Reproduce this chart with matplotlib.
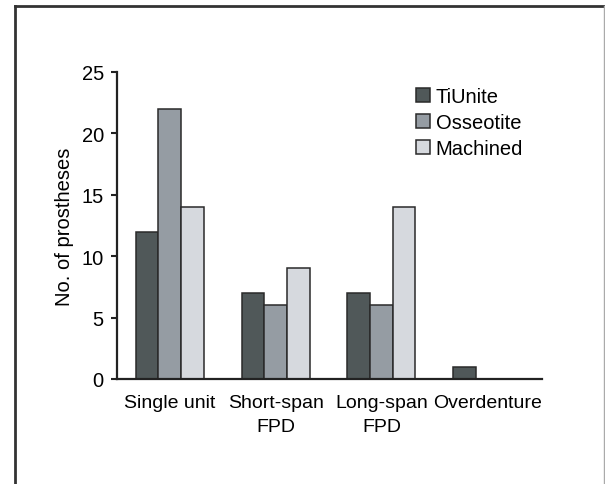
import matplotlib
matplotlib.use('Agg')
import matplotlib.pyplot as plt
from matplotlib.lines import Line2D
from matplotlib.patches import Patch
import numpy as np

# Data
categories = ['Single unit', 'Short-span\nFPD', 'Long-span\nFPD', 'Overdenture']
series_names = ['TiUnite', 'Osseotite', 'Machined']
tiunite = [12, 7, 7, 1]
osseotite = [22, 6, 6, 0]
machined = [14, 9, 14, 0]
yticks = [0, 5, 10, 15, 20, 25]

colors = ['#505859', '#959ca3', '#d6d9de']
edge = '#2a2a2a'

plt.rcParams['font.family'] = ['Liberation Sans', 'DejaVu Sans']

fig = plt.figure(figsize=(6.05, 4.85), dpi=100)
ax = fig.add_axes([117 / 605, 1 - 380 / 485, 425 / 605, 307 / 485])

x = np.arange(len(categories))
width = 0.214
values = [tiunite, osseotite, machined]
for i, vals in enumerate(values):
    xs = x + (i - 1) * width
    keep = [j for j, v in enumerate(vals) if v > 0]
    ax.bar(xs[keep], [vals[j] for j in keep], width=width, color=colors[i],
           edgecolor=edge, linewidth=1.1, zorder=2)

ax.set_xlim(-0.498, 3.516)
ax.set_ylim(0, 25)
ax.set_yticks(yticks)
ax.set_xticks(x)
ax.set_xticklabels(categories, fontsize=14, linespacing=1.5)
ax.tick_params(axis='x', length=0, pad=11)
ax.tick_params(axis='y', length=4, width=1.5, pad=5.5, labelsize=14.5, color='#222222')

for side in ['top', 'right']:
    ax.spines[side].set_visible(False)
for side in ['left', 'bottom']:
    ax.spines[side].set_linewidth(1.6)
    ax.spines[side].set_color('#222222')

ax.set_ylabel('No. of prostheses', fontsize=14.5)
ax.yaxis.set_label_coords(-0.101, 0.5)

handles = [Patch(facecolor=colors[i], edgecolor=edge, linewidth=1.1) for i in range(3)]
ax.legend(handles, series_names, loc='upper left', bbox_to_anchor=(416 / 605, 1 - 88 / 485),
          bbox_transform=fig.transFigure, frameon=False, fontsize=14.5, borderpad=0,
          borderaxespad=0, handlelength=0.68, handleheight=0.68, handletextpad=0.3,
          labelspacing=0.35)

# outer frame
fig.add_artist(Line2D([15 / 605, 15 / 605], [0, 1 - 7 / 485], transform=fig.transFigure,
                      color='#333333', linewidth=2))
fig.add_artist(Line2D([15 / 605, 1], [1 - 7 / 485, 1 - 7 / 485], transform=fig.transFigure,
                      color='#333333', linewidth=2))
fig.add_artist(Line2D([603.5 / 605, 603.5 / 605], [0, 1 - 7 / 485], transform=fig.transFigure,
                      color='#aaaaaa', linewidth=1))

fig.savefig('out.png', dpi=100)
